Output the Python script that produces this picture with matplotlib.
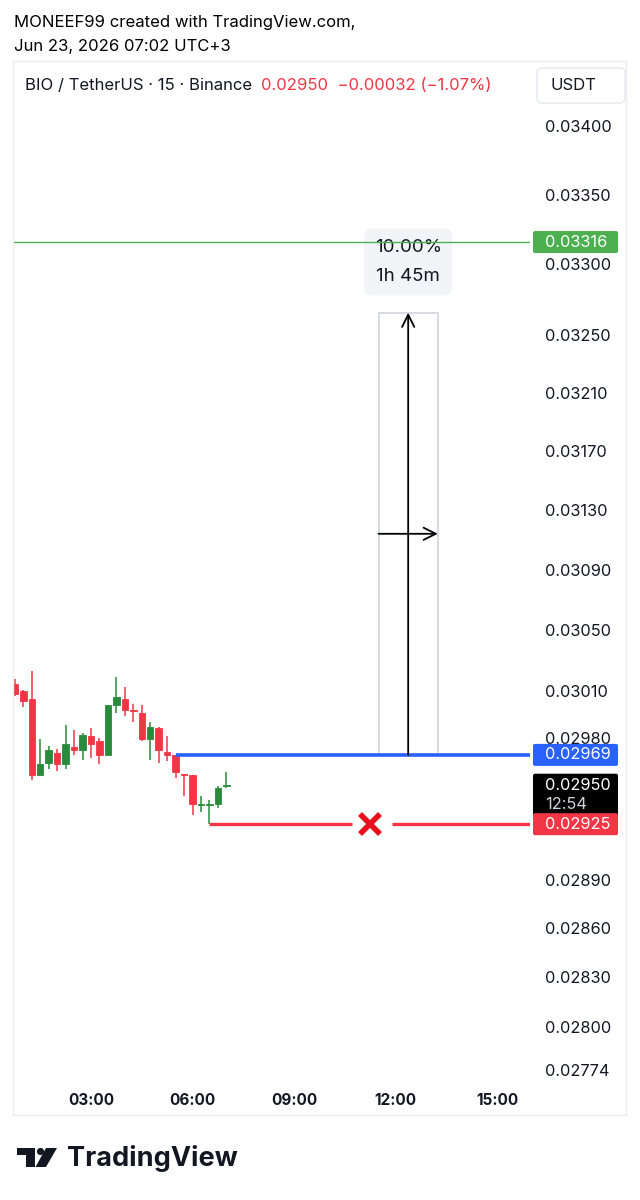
import matplotlib
matplotlib.use('Agg')
import matplotlib.pyplot as plt
from matplotlib.patches import Rectangle, FancyBboxPatch, Polygon, Circle
from matplotlib.ticker import NullLocator, FixedLocator
from matplotlib.transforms import Affine2D

plt.rcParams['font.family'] = ['Inter', 'DejaVu Sans']

# ---------------- data ----------------
times = ["00:45", "01:00", "01:15", "01:30", "01:45", "02:00", "02:15", "02:30",
         "02:45", "03:00", "03:15", "03:30", "03:45", "04:00", "04:15", "04:30",
         "04:45", "05:00", "05:15", "05:30", "05:45", "06:00", "06:15", "06:30",
         "06:45", "07:00"]
opens = [0.03015, 0.03010, 0.03005, 0.02956, 0.02964, 0.02970, 0.02963, 0.02974,
         0.02972, 0.02981, 0.02978, 0.02969, 0.03001, 0.03005, 0.02998, 0.02996,
         0.02979, 0.02986, 0.02971, 0.02969, 0.02957, 0.02956, 0.02937, 0.02937,
         0.02938, 0.02949]
highs = [0.03018, 0.03011, 0.03023, 0.02979, 0.02975, 0.02973, 0.02988, 0.02985,
         0.02983, 0.02986, 0.02980, 0.03001, 0.03019, 0.03013, 0.03002, 0.03001,
         0.02990, 0.02987, 0.02981, 0.02969, 0.02957, 0.02956, 0.02943, 0.02940,
         0.02949, 0.02958]
lows = [0.03007, 0.03000, 0.02953, 0.02956, 0.02960, 0.02959, 0.02960, 0.02969,
        0.02966, 0.02967, 0.02963, 0.02969, 0.02996, 0.02994, 0.02990, 0.02978,
        0.02966, 0.02964, 0.02965, 0.02954, 0.02943, 0.02931, 0.02933, 0.02925,
        0.02935, 0.02948]
closes = [0.03008, 0.03004, 0.02956, 0.02963, 0.02972, 0.02963, 0.02976, 0.02972,
          0.02982, 0.02976, 0.02969, 0.03001, 0.03006, 0.02998, 0.02997, 0.02979,
          0.02987, 0.02972, 0.02969, 0.02958, 0.02956, 0.02938, 0.02938, 0.02938,
          0.02948, 0.02950]

price_ticks = [0.03400, 0.03350, 0.03300, 0.03250, 0.03210, 0.03170, 0.03130,
               0.03090, 0.03050, 0.03010, 0.02980, 0.02890, 0.02860, 0.02830,
               0.02800, 0.02774]
time_ticks = ["03:00", "06:00", "09:00", "12:00", "15:00"]

entry_price = 0.02969
stop_price = 0.02925
target_pct = 10.00
hline_price = 0.03316
last_price = 0.02950
countdown = "12:54"
change_abs = -0.00032
change_pct = -1.07
pos_start = "11:30"
pos_duration_h = 1.75
pos_start_candle = "05:30"
stop_start_candle = "06:30"

UP = '#2a8a3c'
DOWN = '#f23645'
BLUE = '#2962ff'
GREEN_LINE = '#4caf50'
TEXT = '#131722'
FS_AX = 11.8


def hrs(s):
    h, m = s.split(':')
    return int(h) + int(m) / 60.0


# ---------------- figure ----------------
W, H = 640, 1200
fig = plt.figure(figsize=(W / 100, H / 100), dpi=100)
fig.patch.set_facecolor('white')
PX = Affine2D().scale(1 / W, -1 / H).translate(0, 1) + fig.transFigure

ax_l, ax_r, ax_t, ax_b = 14, 530, 62, 1082
ax = fig.add_axes([ax_l / W, 1 - ax_b / H, (ax_r - ax_l) / W, (ax_b - ax_t) / H])
ax.set_facecolor('none')
for s in ax.spines.values():
    s.set_visible(False)
ax.set_yscale('log')
ax.set_xlim(0.724, 15.975)
ax.set_ylim(0.027669, 0.034472)

# y axis labels on right
ax.yaxis.tick_right()
ax.yaxis.set_major_locator(FixedLocator(price_ticks))
ax.yaxis.set_minor_locator(NullLocator())
ax.set_yticklabels([f"{p:.5f}" for p in price_ticks])
ax.tick_params(axis='y', length=0, pad=10.5, labelsize=FS_AX, labelcolor=TEXT)
# x axis labels
ax.set_xticks([hrs(t) for t in time_ticks])
ax.set_xticklabels(time_ticks)
ax.xaxis.set_minor_locator(NullLocator())
ax.tick_params(axis='x', length=0, pad=8, labelsize=11, labelcolor=TEXT)
for lbl in ax.get_xticklabels():
    lbl.set_fontweight('bold')

# candles
tx = [hrs(t) for t in times]
for t, o, h, l, c in zip(tx, opens, highs, lows, closes):
    col = UP if c >= o else DOWN
    ax.vlines(t, l, h, color=col, lw=1.1, zorder=3)
    ax.bar(t, abs(c - o), bottom=min(o, c), width=0.19, color=col,
           edgecolor=col, linewidth=0.6, zorder=4)

xr = ax.get_xlim()[1]
# horizontal alert line
ax.axhline(hline_price, color=GREEN_LINE, lw=1, zorder=6)
# entry line
ax.hlines(entry_price, hrs(pos_start_candle), xr, color=BLUE, lw=2.6, zorder=5)
# stop line with gap around the X
x_mark = 11.25
ax.hlines(stop_price, hrs(stop_start_candle), 10.7, color=DOWN, lw=2.4, zorder=5)
ax.hlines(stop_price, 11.9, xr, color=DOWN, lw=2.4, zorder=5)
ax.plot([x_mark], [stop_price], marker='x', ms=15, mew=4, color='#e8101c', zorder=6)

# target box
ps = hrs(pos_start)
top = entry_price * (1 + target_pct / 100)
ax.add_patch(Rectangle((ps, entry_price), pos_duration_h, top - entry_price,
                       facecolor='white', edgecolor='#d1d4dc', lw=1.2, zorder=4))
xc = ps + pos_duration_h / 2
ax.annotate('', xy=(xc, top), xytext=(xc, entry_price),
            arrowprops=dict(arrowstyle='->', color='black', lw=1.3,
                            mutation_scale=22, shrinkA=0, shrinkB=0), zorder=6)
mid = (entry_price * top) ** 0.5
ax.annotate('', xy=(ps + pos_duration_h, mid), xytext=(ps, mid),
            arrowprops=dict(arrowstyle='->', color='black', lw=1.3,
                            mutation_scale=22, shrinkA=0, shrinkB=0), zorder=6)
ax.annotate(f"{target_pct:.2f}%\n1h 45m", xy=(xc, top), xytext=(0, 36.5),
            textcoords='offset points', ha='center', va='center',
            fontsize=13.5, color=TEXT, linespacing=1.95, zorder=5,
            bbox=dict(boxstyle='round,pad=0.55,rounding_size=0.4',
                      fc='#f2f4f8', ec='none'))


# ---------------- price tags ----------------
def ypx(price):
    return H - ax.transData.transform((1.0, price))[1]


def tag(price, color, txt, top_off=-11, bot_off=11):
    y = ypx(price)
    fig.add_artist(FancyBboxPatch((533, y + top_off), 85, bot_off - top_off,
                                  boxstyle='round,pad=0,rounding_size=2',
                                  fc=color, ec='none', transform=PX))
    fig.text(545 / W, 1 - y / H, txt, color='white', fontsize=FS_AX,
             va='center', ha='left')


tag(hline_price, GREEN_LINE, f"{hline_price:.5f}")
tag(entry_price, BLUE, f"{entry_price:.5f}")
yl = ypx(last_price)
fig.add_artist(FancyBboxPatch((533, yl - 11), 85, 42,
                              boxstyle='round,pad=0,rounding_size=2',
                              fc='black', ec='none', transform=PX))
fig.text(545 / W, 1 - (yl + 1) / H, f"{last_price:.5f}", color='white',
         fontsize=FS_AX, va='center')
fig.text(545 / W, 1 - (yl + 20) / H, countdown, color='#d1d4dc',
         fontsize=FS_AX, va='center')
tag(stop_price, DOWN, f"{stop_price:.5f}")

# ---------------- frame, header, legend ----------------
fig.add_artist(Rectangle((13, 61), 613, 1054, fill=False, ec='#ececec',
                         lw=1, transform=PX))
fig.text(14 / W, 1 - 22 / H, "MONEEF99 created with TradingView.com,",
         fontsize=12, color='black', va='center')
fig.text(14 / W, 1 - 47 / H, "Jun 23, 2026 07:02 UTC+3",
         fontsize=12, color='black', va='center')
fig.text(25 / W, 1 - 86 / H, "BIO / TetherUS · 15 · Binance",
         fontsize=12, color=TEXT, va='center')
fig.text(261 / W, 1 - 86 / H,
         f"{last_price:.5f}  \u2212{abs(change_abs):.5f} (\u2212{abs(change_pct):.2f}%)",
         fontsize=12, color=DOWN, va='center')
fig.add_artist(FancyBboxPatch((537, 68), 88, 35,
                              boxstyle='round,pad=0,rounding_size=5',
                              fc='white', ec='#e6e8ee', lw=1, transform=PX))
fig.text(550 / W, 1 - 86 / H, "USDT", fontsize=12, color=TEXT, va='center')

# ---------------- TradingView logo ----------------
fig.add_artist(Polygon([(17, 1148), (35, 1148), (35, 1167), (26, 1167),
                        (26, 1155), (17, 1155)], closed=True, fc='#131722',
                       ec='none', transform=PX))
fig.add_artist(Circle((40.5, 1151.5), 3.6, fc='#131722', ec='none', transform=PX))
fig.add_artist(Polygon([(46, 1148), (57, 1148), (46, 1167), (35.5, 1167)],
                       closed=True, fc='#131722', ec='none', transform=PX))
fig.text(67 / W, 1 - 1158 / H, "TradingView", fontsize=19.5, fontweight='bold',
         color='#131722', va='center')

fig.savefig('out.png', dpi=100, facecolor='white')
